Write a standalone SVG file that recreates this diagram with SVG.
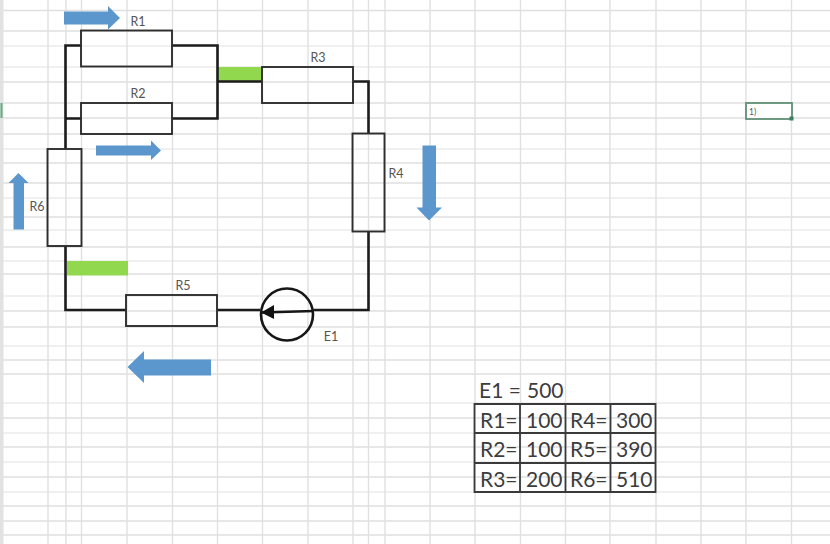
<svg xmlns="http://www.w3.org/2000/svg" width="830" height="544" viewBox="0 0 830 544">
<style>
.g{stroke:#e0e0e0;stroke-width:1.4;fill:none}
.l{stroke:#f0f0f0;stroke-width:1.8;fill:none}
.w{stroke:#1c1c1c;stroke-width:2.600;fill:none}
.r{stroke:#2e2e2e;stroke-width:1.900;fill:none}
.a{fill:#5b97cd}
.b{fill:#92d84f}
.t{font-family:"Lato","Liberation Sans",Arial,sans-serif;font-size:12.500px;fill:#555}
.c{font-family:"Lato","Liberation Sans",Arial,sans-serif;font-size:21px;fill:#3c3c3c}
.tb{stroke:#3a3a3a;stroke-width:1.800;fill:none}
</style>
<rect width="830" height="544" fill="#fff"/>
<g id="grid">
<path class="g" d="M0 10.500H830M0 31H830M0 82H830M0 103H830M0 118H830M0 134H830M0 163H830M0 183H830M0 217H830M0 247H830M0 274H830M0 311H830M0 327H830M0 360H830M0 374H830M0 418H830M0 447H830M0 477H830M0 506H830M0 521H830M0 535H830"/>
<path class="l" d="M0 46H830M0 67H830M0 149H830M0 198H830M0 230H830M0 261H830M0 296H830M0 346H830M0 403H830M0 433H830M0 462H830M0 492H830"/>
<path class="g" d="M48 0V544M66 0V544M81.500 0V544M127 0V544M172.500 0V544M217.500 0V544M262.500 0V544M308 0V544M353 0V544M368.500 0V544M385 0V544M430 0V544M475 0V544M520.500 0V544M565.500 0V544M610 0V544M656 0V544M701 0V544M746 0V544M791.500 0V544"/>
<rect x="0" y="0" width="3.500" height="544" fill="#e2e2e2"/>
<rect x="0.500" y="103" width="2" height="15" fill="#5fae7c"/>
</g>
<g id="selected-cell">
<rect x="746" y="103" width="46" height="16" fill="#fff" stroke="#5f9077" stroke-width="1.800"/>
<rect x="789.500" y="116.500" width="4" height="4" fill="#3f7f5f"/>
<text x="749" y="115" style="font-family:'Lato','Liberation Sans',Arial,sans-serif;font-size:8.500px;fill:#555">1)</text>
</g>
<g id="green-bars">
<rect class="b" x="218" y="67" width="44" height="15"/>
<rect class="b" x="67" y="261" width="61" height="14.500"/>
</g>
<g id="connectors">
<path class="w" d="M81 45.500H65.500V149M172 45.500H217.500V118.500H172M65.500 118.500H81M217.500 81.500H262M353 81.500H368.500V133M368.500 231V310H314M260 310H217M126 310H65.500V246"/>
</g>
<g id="R1"><rect class="r" x="81" y="30.500" width="91" height="36"/><text class="t" x="138" y="26" text-anchor="middle">R1</text></g>
<g id="R2"><rect class="r" x="81" y="103" width="91" height="31"/><text class="t" x="138" y="98" text-anchor="middle">R2</text></g>
<g id="R3"><rect class="r" x="262" y="67" width="91" height="36"/><text class="t" x="318" y="62" text-anchor="middle">R3</text></g>
<g id="R4"><rect class="r" x="352.500" y="133.500" width="32" height="98"/><text class="t" x="396" y="178" text-anchor="middle">R4</text></g>
<g id="R5"><rect class="r" x="126" y="295" width="91" height="31"/><text class="t" x="183" y="290" text-anchor="middle">R5</text></g>
<g id="R6"><rect class="r" x="47.500" y="149" width="34" height="97"/><text class="t" x="37" y="211" text-anchor="middle">R6</text></g>
<g id="E1">
<circle cx="287" cy="314.500" r="26" fill="none" stroke="#161616" stroke-width="2.600"/>
<path d="M262 312.500L314 311" stroke="#161616" stroke-width="2.400" fill="none"/>
<path d="M261 312.500L274 305V319Z" fill="#111"/>
<text class="t" x="331" y="341" text-anchor="middle">E1</text>
</g>
<g id="arrows">
<path class="a" d="M64 11.500H108V6L120 18L108 29.500V24.500H64Z"/>
<path class="a" d="M96 145.500H151V140.500L161 150.500L151 160V155.500H96Z"/>
<path class="a" d="M422.500 145.500H436V207.500H442L429 220.500L416.500 207.500H422.500Z"/>
<path class="a" d="M13.500 229.500H24V183H28.500L18.500 173L8.500 183H13.500Z"/>
<path class="a" d="M211 359.500H144V351L127.500 367L144 383V375.500H211Z"/>
</g>
<g id="values">
<path class="tb" d="M474.500 404H655.500V492H474.500ZM474.500 433H655.500M474.500 463H655.500M520 404V492M565.500 404V492M610.500 404V492"/>
<text class="c" x="479" y="398">E1 =</text><text class="c" x="527" y="398">500</text>
<text class="c" x="480" y="428">R1=</text><text class="c" x="526" y="428">100</text><text class="c" x="570" y="428">R4=</text><text class="c" x="616" y="428">300</text>
<text class="c" x="480" y="457">R2=</text><text class="c" x="526" y="457">100</text><text class="c" x="570" y="457">R5=</text><text class="c" x="616" y="457">390</text>
<text class="c" x="480" y="487">R3=</text><text class="c" x="526" y="487">200</text><text class="c" x="570" y="487">R6=</text><text class="c" x="616" y="487">510</text>
</g>
</svg>
